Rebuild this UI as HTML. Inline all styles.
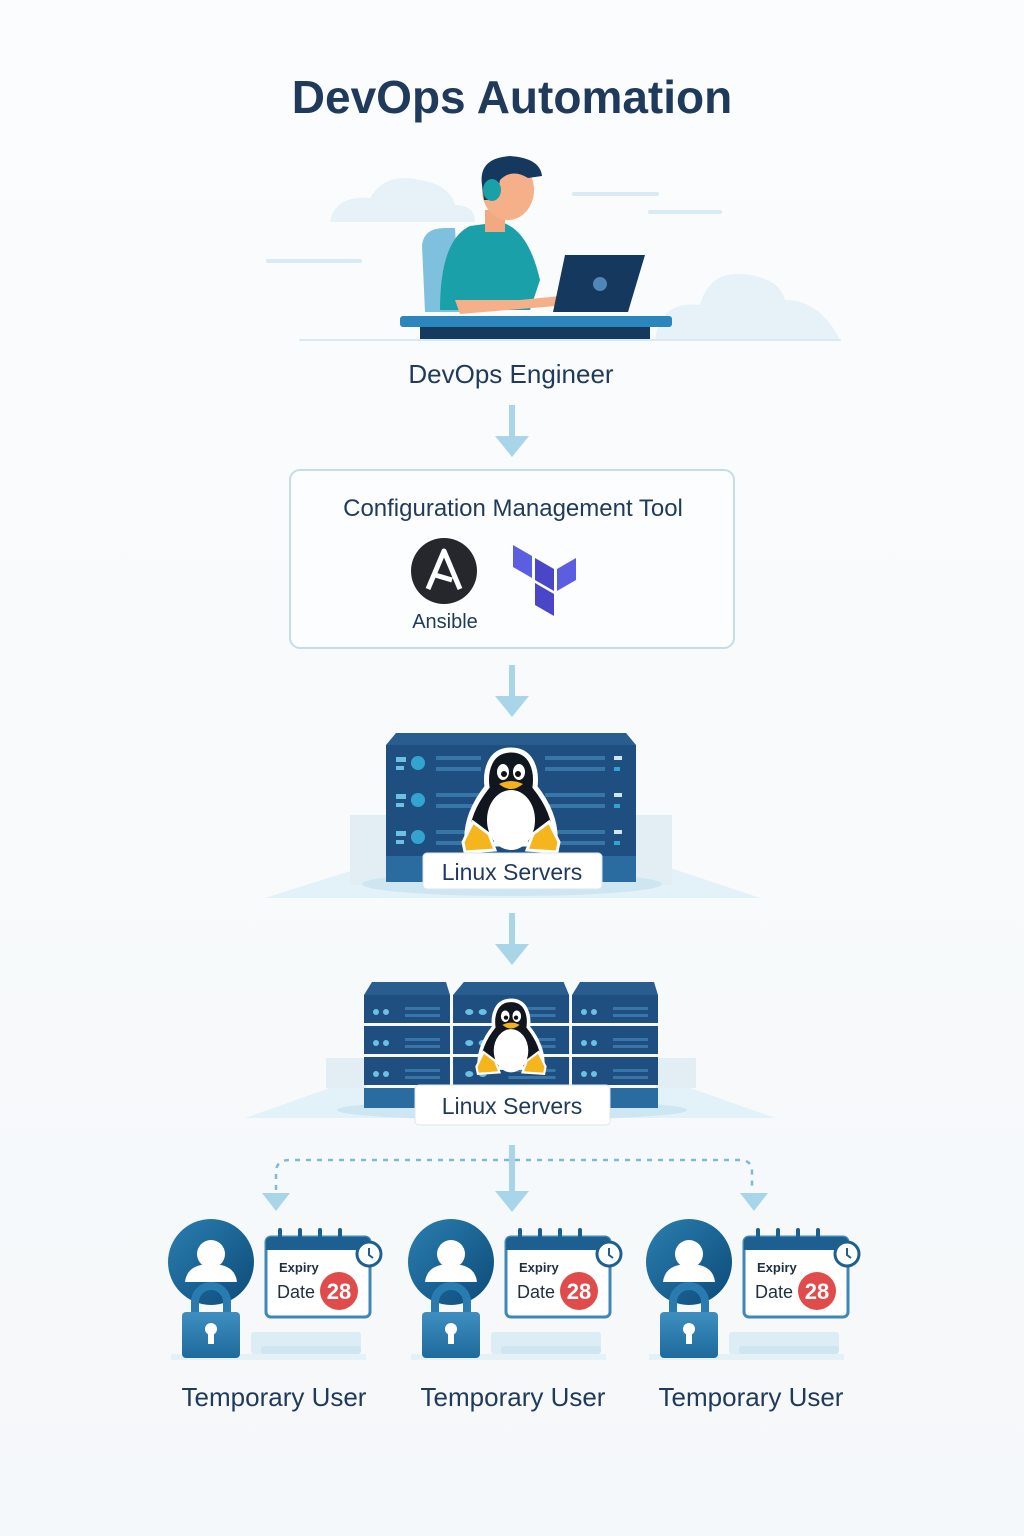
<!DOCTYPE html>
<html><head><meta charset="utf-8"><style>
html,body{margin:0;padding:0;background:#f9fbfc;}
svg{display:block;font-family:"Liberation Sans","DejaVu Sans",sans-serif;}
</style></head><body>
<svg width="1024" height="1536" viewBox="0 0 1024 1536" xmlns="http://www.w3.org/2000/svg">
<defs>
<linearGradient id="bg" x1="0" y1="0" x2="0" y2="1"><stop offset="0" stop-color="#fbfcfd"/><stop offset="1" stop-color="#f5f8fa"/></linearGradient>
<linearGradient id="uc" x1="0" y1="0" x2="1" y2="1"><stop offset="0" stop-color="#2a7fb0"/><stop offset="1" stop-color="#0d4a78"/></linearGradient>
<linearGradient id="lk" x1="0" y1="0" x2="0" y2="1"><stop offset="0" stop-color="#3e8fc0"/><stop offset="1" stop-color="#1e6a9c"/></linearGradient>
<g id="peng">
 <path d="M0,-62 C-22,-62 -26,-40 -24,-25 C-36,-10 -46,10 -44,32 L44,32 C46,10 36,-10 24,-25 C26,-40 22,-62 0,-62Z" fill="#11161e" stroke="#fff" stroke-width="5"/>
 <ellipse cx="0" cy="8" rx="24" ry="30" fill="#fff"/>
 <ellipse cx="-8" cy="-40" rx="6" ry="8" fill="#fff"/><ellipse cx="8" cy="-40" rx="6" ry="8" fill="#fff"/>
 <circle cx="-7" cy="-38" r="3" fill="#111"/><circle cx="7" cy="-38" r="3" fill="#111"/>
 <path d="M-12,-28 Q0,-34 12,-28 Q0,-18 -12,-28Z" fill="#f2b21d"/>
 <path d="M-48,30 L-38,10 L-22,22 L-16,38 L-46,40Z" fill="#f5b51c" stroke="#fff" stroke-width="3"/>
 <path d="M48,30 L38,10 L22,22 L16,38 L46,40Z" fill="#f5b51c" stroke="#fff" stroke-width="3"/>
</g>
<g id="user">
 <circle cx="0" cy="0" r="43" fill="url(#uc)"/>
 <circle cx="0" cy="-8" r="14" fill="#fff"/>
 <path d="M-26,20 Q-24,2 0,2 Q24,2 26,20Z" fill="#fff"/>
 <rect x="40" y="70" width="110" height="22" rx="3" fill="#dcedf5"/>
 <rect x="50" y="84" width="100" height="8" rx="3" fill="#cfe6f1"/>
 <rect x="-40" y="92" width="195" height="6" fill="#e4f1f7"/>
 <path d="M-16,52 L-16,40 A16,16 0 0 1 16,40 L16,52" fill="none" stroke="#2a7bb0" stroke-width="8"/>
 <rect x="-29" y="50" width="58" height="46" rx="4" fill="url(#lk)"/>
 <circle cx="0" cy="67" r="6" fill="#fff"/><rect x="-3" y="68" width="6" height="14" fill="#fff"/>
 <rect x="55" y="-25" width="104" height="80" rx="5" fill="#fff" stroke="#3f87b5" stroke-width="3"/>
 <path d="M55,-12 L55,-20 Q55,-25 60,-25 L154,-25 Q159,-25 159,-20 L159,-12Z" fill="#1d5f91"/>
 <g stroke="#1d5f91" stroke-width="4" stroke-linecap="round"><line x1="69" y1="-32" x2="69" y2="-22"/><line x1="89" y1="-32" x2="89" y2="-22"/><line x1="109" y1="-32" x2="109" y2="-22"/><line x1="129" y1="-32" x2="129" y2="-22"/></g>
 <circle cx="158" cy="-8" r="12" fill="#fff" stroke="#1d5f91" stroke-width="3"/>
 <path d="M158,-14 L158,-7 L162,-4" stroke="#1d5f91" stroke-width="2" fill="none"/>
 <text x="68" y="10" font-size="13" font-weight="bold" fill="#1f2f44">Expiry</text>
 <text x="66" y="36" font-size="18" fill="#1f2f44">Date</text>
 <circle cx="128" cy="29" r="19" fill="#e04b4b"/>
 <text x="128" y="37" font-size="22" font-weight="bold" fill="#fff" text-anchor="middle">28</text>
</g>
<g id="rk">
 <path d="M372,982 L446,982 L450,995 L364,995Z" fill="#2a5d8f"/>
 <rect x="364" y="995" width="86" height="28" fill="#1f4f80"/>
 <rect x="364" y="1026" width="86" height="28" fill="#1f4f80"/>
 <rect x="364" y="1057" width="86" height="28" fill="#1f4f80"/>
 <rect x="364" y="1088" width="86" height="20" fill="#2a6ba0"/>
 <g fill="#6cc0e0"><circle cx="376" cy="1012" r="3"/><circle cx="386" cy="1012" r="3"/><circle cx="376" cy="1043" r="3"/><circle cx="386" cy="1043" r="3"/><circle cx="376" cy="1074" r="3"/><circle cx="386" cy="1074" r="3"/></g>
 <g fill="#3876a8"><rect x="405" y="1007" width="35" height="3"/><rect x="405" y="1014" width="35" height="3"/><rect x="405" y="1038" width="35" height="3"/><rect x="405" y="1045" width="35" height="3"/><rect x="405" y="1069" width="35" height="3"/><rect x="405" y="1076" width="35" height="3"/></g>
</g>
</defs>
<rect width="1024" height="1536" fill="url(#bg)"/>
<text x="512" y="113" font-size="46" font-weight="bold" fill="#1f3a5a" text-anchor="middle">DevOps Automation</text>

<g fill="#e6f2f8">
 <path d="M330,222 Q335,195 370,198 Q385,172 420,180 Q450,185 455,205 Q475,205 475,222Z"/>
 <path d="M655,340 Q660,300 700,305 Q710,268 750,275 Q780,280 785,300 Q820,300 840,340Z"/>
</g>
<g stroke="#d8eaf3" stroke-width="4" stroke-linecap="round">
 <line x1="268" y1="261" x2="360" y2="261"/><line x1="574" y1="194" x2="657" y2="194"/><line x1="650" y1="212" x2="720" y2="212"/>
 <line x1="300" y1="340" x2="840" y2="340" stroke-width="2"/>
</g>
<path d="M425,312 L422,245 Q424,228 445,228 L455,228 L460,312Z" fill="#7fc0de"/>
<path d="M440,310 Q440,240 470,226 L500,222 Q528,228 540,280 L530,310Z" fill="#1aa0a8"/>
<path d="M455,300 L520,300 L560,296 L556,306 L460,314Z" fill="#f5b08a"/>
<rect x="485" y="210" width="20" height="22" fill="#f2a981"/>
<ellipse cx="508" cy="190" rx="26" ry="30" fill="#f5b08a"/>
<path d="M482,185 Q478,158 510,156 Q540,158 542,176 L528,178 Q512,168 500,180 L496,200 L484,200Z" fill="#15395e"/>
<ellipse cx="492" cy="190" rx="9" ry="11" fill="#1aa0a8"/>
<path d="M565,255 L645,255 L628,312 L553,312Z" fill="#15395e"/>
<circle cx="600" cy="284" r="7" fill="#4f86b5"/>
<rect x="400" y="316" width="272" height="11" rx="3" fill="#2a86bd"/>
<rect x="420" y="327" width="230" height="12" fill="#153a5e"/>
<text x="511" y="383" font-size="26" fill="#1f3a5a" text-anchor="middle">DevOps Engineer</text>

<g fill="#a9d5e8" stroke="#a9d5e8">
 <line x1="512" y1="405" x2="512" y2="440" stroke-width="6"/><path d="M495,436 L529,436 L512,457Z" stroke="none"/>
 <line x1="512" y1="665" x2="512" y2="700" stroke-width="6"/><path d="M495,696 L529,696 L512,717Z" stroke="none"/>
 <line x1="512" y1="913" x2="512" y2="948" stroke-width="6"/><path d="M495,944 L529,944 L512,965Z" stroke="none"/>
 <line x1="512" y1="1145" x2="512" y2="1195" stroke-width="6"/><path d="M495,1191 L529,1191 L512,1212Z" stroke="none"/>
 <path d="M262,1193 L290,1193 L276,1211Z" stroke="none"/><path d="M740,1193 L768,1193 L754,1211Z" stroke="none"/>
</g>
<path d="M276,1190 L276,1172 Q276,1160 290,1160 L740,1160 Q752,1160 752,1172 L752,1190" fill="none" stroke="#7bbbd6" stroke-width="2.5" stroke-dasharray="5,6"/>

<rect x="290" y="470" width="444" height="178" rx="10" fill="#fcfdfe" stroke="#c6dde9" stroke-width="2"/>
<text x="513" y="516" font-size="24" fill="#1f3a5a" text-anchor="middle">Configuration Management Tool</text>
<circle cx="444" cy="571" r="33" fill="#25272c"/>
<path d="M428,589 L444,551 L460,589 M435,575 L452,580" fill="none" stroke="#fff" stroke-width="5" stroke-linejoin="round"/>
<text x="445" y="628" font-size="20" fill="#1f3a5a" text-anchor="middle">Ansible</text>
<g>
 <path d="M513,545 L532,556 L532,578 L513,567Z" fill="#5b5ee0"/>
 <path d="M535,558 L554,569 L554,591 L535,580Z" fill="#4a46c8"/>
 <path d="M557,569 L576,558 L576,580 L557,591Z" fill="#5b5ee0"/>
 <path d="M535,583 L554,594 L554,616 L535,605Z" fill="#4a46c8"/>
</g>

<path d="M265,898 L360,868 L670,868 L760,898Z" fill="#e3f1f8"/>
<rect x="350" y="815" width="40" height="70" fill="#e3eef4"/><rect x="632" y="815" width="40" height="70" fill="#e3eef4"/>
<ellipse cx="512" cy="884" rx="150" ry="12" fill="#cde6f2"/>
<path d="M396,733 L626,733 L636,745 L386,745Z" fill="#2a5d8f"/>
<g id="u1">
 <rect x="386" y="745" width="250" height="38" fill="#1f4f80"/>
 <rect x="396" y="757" width="10" height="5" fill="#6cc0e0"/><rect x="396" y="766" width="8" height="4" fill="#6cc0e0"/>
 <circle cx="418" cy="763" r="7" fill="#35a3cf"/>
 <rect x="436" y="756" width="45" height="4" fill="#3876a8"/><rect x="436" y="767" width="45" height="4" fill="#3876a8"/>
 <rect x="545" y="756" width="60" height="4" fill="#3876a8"/><rect x="545" y="767" width="60" height="4" fill="#3876a8"/>
 <rect x="614" y="756" width="8" height="4" fill="#cfe6f2"/><rect x="614" y="767" width="6" height="4" fill="#35a3cf"/>
</g>
<use href="#u1" y="37"/><use href="#u1" y="74"/>
<rect x="386" y="856" width="250" height="26" fill="#2a6ba0"/>
<use href="#peng" transform="translate(511,812)"/>
<rect x="423" y="853" width="179" height="36" rx="4" fill="#fff" stroke="#dbe6ee"/>
<text x="512" y="880" font-size="23" fill="#1f3a5a" text-anchor="middle">Linux Servers</text>

<path d="M245,1118 L330,1088 L690,1088 L775,1118Z" fill="#e3f1f8"/>
<rect x="326" y="1058" width="40" height="30" fill="#e3eef4"/><rect x="656" y="1058" width="40" height="30" fill="#e3eef4"/>
<ellipse cx="512" cy="1110" rx="175" ry="10" fill="#cde6f2"/>
<use href="#rk"/>
<use href="#rk" x="208"/>
<use href="#rk" transform="translate(-38,0) scale(1.349,1)"/>
<use href="#peng" transform="translate(511,1045) scale(0.72)"/>
<rect x="415" y="1085" width="195" height="40" rx="4" fill="#fff" stroke="#dbe6ee"/>
<text x="512" y="1114" font-size="23" fill="#1f3a5a" text-anchor="middle">Linux Servers</text>

<use href="#user" transform="translate(211,1262)"/>
<use href="#user" transform="translate(451,1262)"/>
<use href="#user" transform="translate(689,1262)"/>
<g font-size="26" fill="#1f3a5a" text-anchor="middle">
<text x="274" y="1406">Temporary User</text>
<text x="513" y="1406">Temporary User</text>
<text x="751" y="1406">Temporary User</text>
</g>
</svg>
</body></html>
